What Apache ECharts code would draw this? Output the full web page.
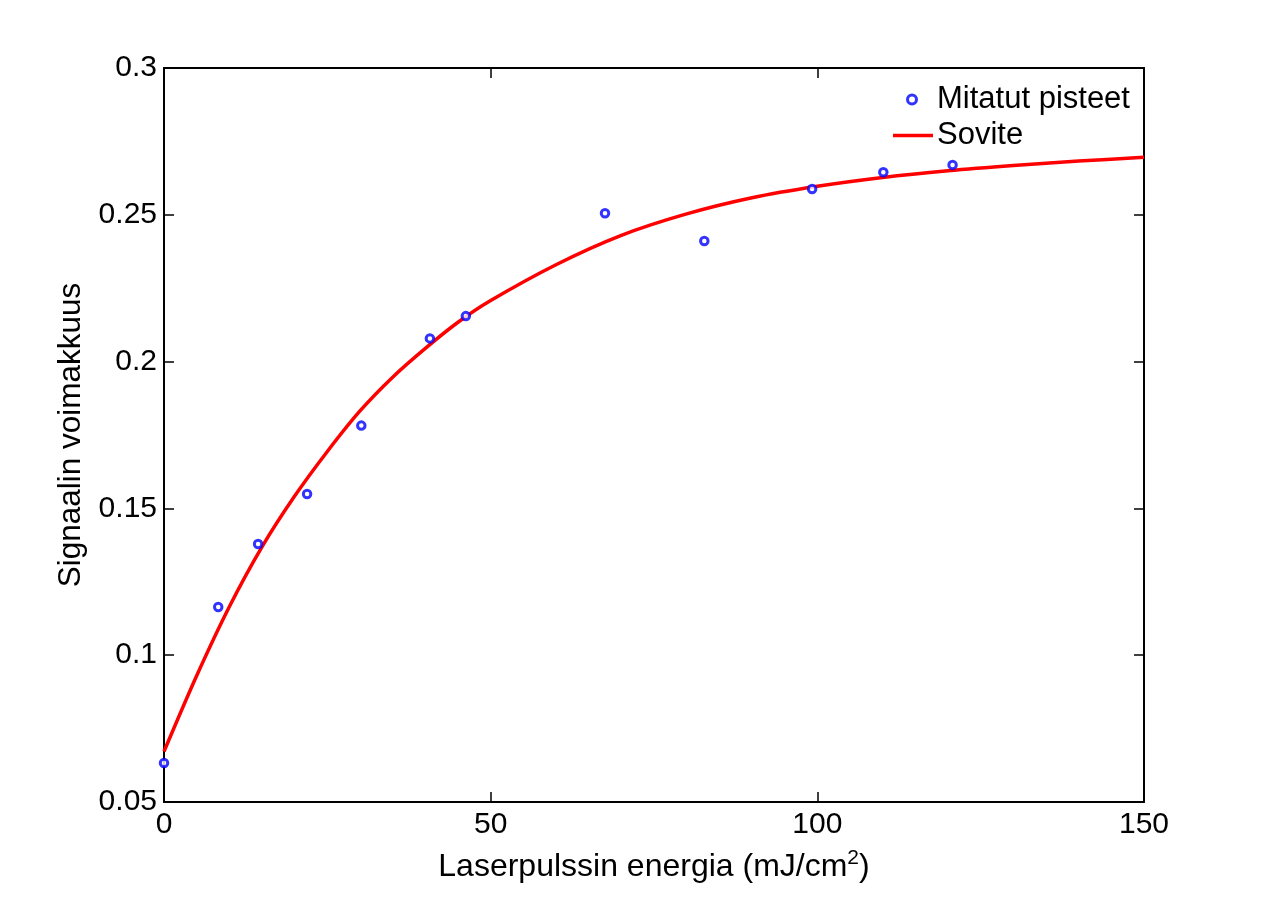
<!DOCTYPE html>
<html>
<head>
<meta charset="utf-8">
<script src="https://cdn.jsdelivr.net/npm/echarts@6/dist/echarts.min.js"></script>
<style>
html,body{margin:0;padding:0;background:#fff;}
#chart{width:1265px;height:902px;}
</style>
</head>
<body>
<div id="chart"></div>
<script>
// Measured points
const xPoints = [0, 8.3, 14.4, 21.9, 30.2, 40.7, 46.2, 67.5, 82.7, 99.2, 110.1, 120.7];
const yPoints = [0.0633, 0.1164, 0.1379, 0.1549, 0.1782, 0.2079, 0.2155, 0.2505, 0.2411, 0.2588, 0.2645, 0.2670];
// Fitted curve
const xFit = [0, 5, 10, 15, 20, 25, 30, 35, 40, 45, 50, 60, 70, 80, 90, 100, 110, 120, 130, 140, 150];
const yFit = [0.0672, 0.0930, 0.1165, 0.1369, 0.1542, 0.1694, 0.1832, 0.1947, 0.2045, 0.2134, 0.2208, 0.2330, 0.2430, 0.2503, 0.2558, 0.2597, 0.2627, 0.2650, 0.2668, 0.2683, 0.2696];
// Axes
const xTicks = [0, 50, 100, 150];
const yTicks = [0.05, 0.1, 0.15, 0.2, 0.25, 0.3];
const seriesNames = ['Mitatut pisteet', 'Sovite'];
const xLabel = 'Laserpulssin energia (mJ/cm{sup|2})';
const yLabel = 'Signaalin voimakkuus';

const FONT = 'Liberation Sans, Arial, sans-serif';
const chart = echarts.init(document.getElementById('chart'), null, {renderer: 'canvas'});

const axisCommon = {
  axisLine: {show: true, onZero: false, lineStyle: {color: '#000', width: 2}},
  axisTick: {show: true, inside: true, length: 10, lineStyle: {color: '#000', width: 1.5}},
  splitLine: {show: false}
};

const option = {
  backgroundColor: '#fff',
  animation: false,
  grid: {left: 164, right: 121, top: 68, bottom: 100, containLabel: false},
  legend: [
    {
      left: 901, top: 79,
      itemWidth: 40, itemHeight: 9,
      selectedMode: false,
      textStyle: {fontFamily: FONT, fontSize: 31, color: '#000', padding: [0, 0, 0, 0]},
      data: [{name: seriesNames[0], icon: 'circle',
        itemStyle: {color: '#fff', borderColor: '#0000ff', borderWidth: 3}}]
    },
    {
      left: 888, top: 115,
      itemWidth: 40, itemHeight: 3.5,
      selectedMode: false,
      textStyle: {fontFamily: FONT, fontSize: 31, color: '#000', padding: [0, 0, 0, -1]},
      data: [{name: seriesNames[1], icon: 'rect'}]
    }
  ],
  xAxis: [
    Object.assign({
      type: 'value', min: xTicks[0], max: xTicks[xTicks.length - 1], interval: 50,
      position: 'bottom',
      name: xLabel, nameLocation: 'middle', nameGap: 46,
      nameTextStyle: {fontFamily: FONT, fontSize: 32, color: '#000', lineHeight: 38,
        rich: {sup: {fontFamily: FONT, fontSize: 21, color: '#000', verticalAlign: 'top', lineHeight: 38, padding: [0, 0, 16, 0]}}},
      axisLabel: {fontFamily: FONT, fontSize: 30, color: '#000', margin: 8,
        formatter: v => String(v)}
    }, axisCommon),
    Object.assign({
      type: 'value', min: xTicks[0], max: xTicks[xTicks.length - 1], interval: 50,
      position: 'top', axisLabel: {show: false}
    }, axisCommon)
  ],
  yAxis: [
    Object.assign({
      type: 'value', min: yTicks[0], max: yTicks[yTicks.length - 1], interval: 0.05,
      position: 'left',
      name: yLabel, nameLocation: 'middle', nameGap: 70, nameRotate: 90,
      nameTextStyle: {fontFamily: FONT, fontSize: 31.5, color: '#000'},
      axisLabel: {fontFamily: FONT, fontSize: 30, color: '#000', margin: 7,
        formatter: v => String(+v.toFixed(2))}
    }, axisCommon),
    Object.assign({
      type: 'value', min: yTicks[0], max: yTicks[yTicks.length - 1], interval: 0.05,
      position: 'right', axisLabel: {show: false}
    }, axisCommon)
  ],
  series: [
    {
      name: seriesNames[0],
      type: 'scatter',
      data: xPoints.map((x, i) => [x, yPoints[i]]),
      symbol: 'circle',
      symbolSize: 7.5,
      itemStyle: {color: '#fff', borderColor: '#0000ff', borderWidth: 3},
      z: 3
    },
    {
      name: seriesNames[1],
      type: 'line',
      data: xFit.map((x, i) => [x, yFit[i]]),
      smooth: 0.3,
      symbol: 'none',
      showSymbol: false,
      lineStyle: {color: '#ff0000', width: 3.5},
      itemStyle: {color: '#ff0000'},
      z: 2
    }
  ]
};
chart.setOption(option);
</script>
</body>
</html>
